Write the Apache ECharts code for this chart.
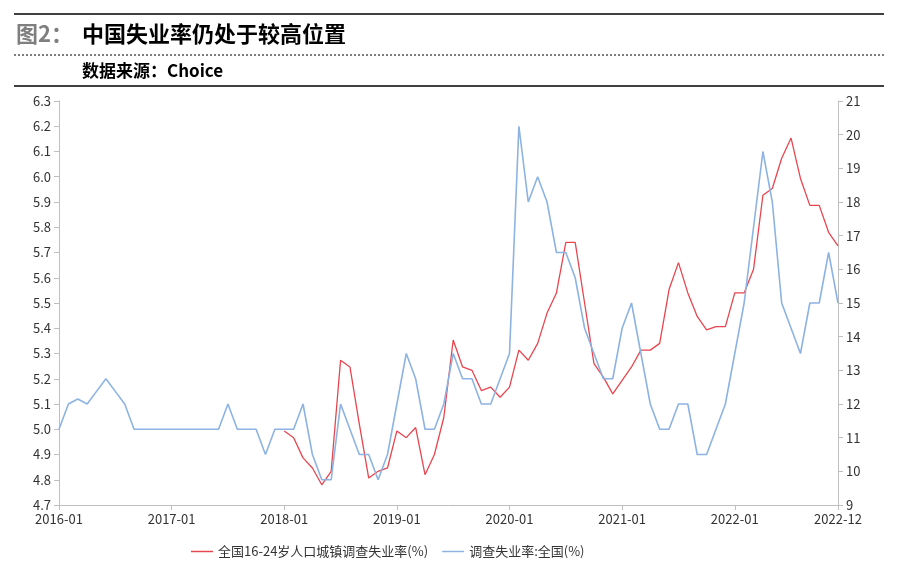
<!DOCTYPE html>
<html><head><meta charset="utf-8">
<script src="https://cdn.jsdelivr.net/npm/echarts@6/dist/echarts.min.js"></script>
<style>html,body{margin:0;padding:0;background:#fff}#c{width:900px;height:573px}</style>
</head><body><div id="c"></div>
<script>
const months = [];
for (let y = 2016; y <= 2022; y++) for (let m = 1; m <= 12; m++) months.push(y + '-' + String(m).padStart(2, '0'));
const nationalRate = [5.0,5.1,5.12,5.1,5.15,5.2,5.15,5.1,5.0,5.0,5.0,5.0,
 5.0,5.0,5.0,5.0,5.0,5.0,5.1,5.0,5.0,5.0,4.9,5.0,
 5.0,5.0,5.1,4.9,4.8,4.8,5.1,5.0,4.9,4.9,4.8,4.9,
 5.1,5.3,5.2,5.0,5.0,5.1,5.3,5.2,5.2,5.1,5.1,5.2,
 5.3,6.2,5.9,6.0,5.9,5.7,5.7,5.6,5.4,5.3,5.2,5.2,
 5.4,5.5,5.3,5.1,5.0,5.0,5.1,5.1,4.9,4.9,5.0,5.1,
 5.3,5.5,5.8,6.1,5.9,5.5,5.4,5.3,5.5,5.5,5.7,5.5];
const youthRate = [null,null,null,null,null,null,null,null,null,null,null,null,
 null,null,null,null,null,null,null,null,null,null,null,null,
 11.2,11.0,10.4,10.1,9.6,10.0,13.3,13.1,11.4,9.8,10.0,10.1,
 11.2,11.0,11.3,9.9,10.5,11.6,13.9,13.1,13.0,12.4,12.5,12.2,
 12.5,13.6,13.3,13.8,14.7,15.3,16.8,16.8,15.0,13.2,12.8,12.3,
 12.7,13.1,13.6,13.6,13.8,15.4,16.2,15.3,14.6,14.2,14.3,14.3,
 15.3,15.3,16.0,18.2,18.4,19.3,19.9,18.7,17.9,17.9,17.1,16.7];
const leftTicks = [4.7,4.8,4.9,5.0,5.1,5.2,5.3,5.4,5.5,5.6,5.7,5.8,5.9,6.0,6.1,6.2,6.3];
const seriesNames = ['全国16-24岁人口城镇调查失业率(%)', '调查失业率:全国(%)'];
const titleText = '中国失业率仍处于较高位置';
const sourceText = '数据来源：Choice';

const F = '"Noto Sans CJK SC","Noto Sans",sans-serif';
const showIdx = i => months[i].endsWith('-01') || i === months.length - 1;
const chart = echarts.init(document.getElementById('c'));
chart.setOption({
  animation: false,
  textStyle: { fontFamily: F },
  graphic: [
    { type: 'line', shape: { x1: 14, y1: 14, x2: 884, y2: 14 }, style: { stroke: '#000', lineWidth: 1.5 } },
    { type: 'text', left: 16, top: 23, style: { text: '图2：', font: 'bold 22px ' + F, fill: '#7f7f7f' } },
    { type: 'text', left: 82, top: 23, style: { text: titleText, font: 'bold 22px ' + F, fill: '#000' } },
    { type: 'line', shape: { x1: 14, y1: 55, x2: 884, y2: 55 }, style: { stroke: '#000', lineWidth: 1, lineDash: [2, 2] } },
    { type: 'text', left: 82, top: 62, style: { text: sourceText, font: 'bold 17px ' + F, fill: '#000' } },
    { type: 'line', shape: { x1: 14, y1: 86, x2: 884, y2: 86 }, style: { stroke: '#000', lineWidth: 1.5 } }
  ],
  grid: { left: 59, right: 62, top: 101, bottom: 68 },
  legend: {
    left: 186, bottom: 10, itemGap: 14, icon: 'path://M0,0 L30,0 L30,2 L0,2 Z', itemWidth: 22, itemHeight: 2,
    textStyle: { fontSize: 13, color: '#333' }, data: seriesNames
  },
  xAxis: {
    type: 'category', data: months, boundaryGap: false,
    axisLine: { lineStyle: { color: '#bfbfbf' } },
    axisTick: { interval: i => showIdx(i), lineStyle: { color: '#bfbfbf' } },
    axisLabel: { interval: i => showIdx(i), color: '#333', fontSize: 13 }
  },
  yAxis: [
    { type: 'value', min: 4.7, max: 6.3, interval: 0.1, splitLine: { show: false },
      axisLine: { show: true, lineStyle: { color: '#bfbfbf' } }, axisTick: { show: true, lineStyle: { color: '#bfbfbf' } },
      axisLabel: { color: '#333', fontSize: 13, formatter: v => v.toFixed(1) } },
    { type: 'value', min: 9, max: 21, interval: 1, splitLine: { show: false },
      axisLine: { show: true, lineStyle: { color: '#bfbfbf' } }, axisTick: { show: true, lineStyle: { color: '#bfbfbf' } },
      axisLabel: { color: '#333', fontSize: 13 } }
  ],
  series: [
    { name: seriesNames[0], type: 'line', yAxisIndex: 1, data: youthRate, showSymbol: false, color: '#e8454f', lineStyle: { width: 1.3 } },
    { name: seriesNames[1], type: 'line', yAxisIndex: 0, data: nationalRate, showSymbol: false, color: '#8db3e2', lineStyle: { width: 1.6 } }
  ]
});
</script></body></html>
